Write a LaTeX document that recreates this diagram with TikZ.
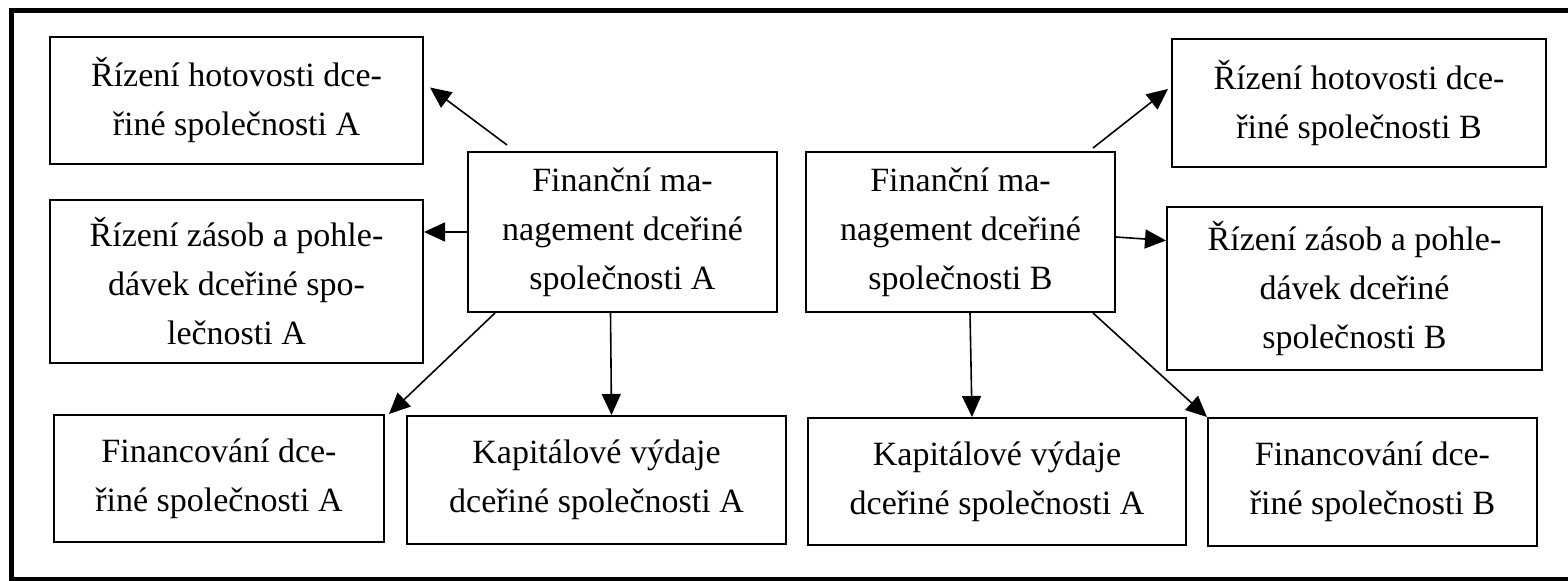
\documentclass[tikz,border=0pt]{standalone}
\usepackage{fontspec}
\setmainfont{Liberation Serif}
\usetikzlibrary{arrows.meta,calc}

\begin{document}
\begin{tikzpicture}[x=0.5pt, y=-0.5pt,
                    box/.style={draw, line width=1pt, align=center, inner sep=0pt,
                                font=\fontsize{17}{24.5}\selectfont},
                    arrow/.style={-{Triangle[length=10.5pt,width=9.5pt]}, line width=0.8pt},
                    frame/.style={line width=2.5pt}
                    ]
        \useasboundingbox (0,0) rectangle (1568,581);
        \draw[frame] (1590,11) -- (11,11) -- (11,579.5) -- (1590,579.5);

        \node[box, minimum width=154.5pt, minimum height=80pt] (Acenter) at (622.5,232)
            {Finanční ma-\\nagement dceřiné\\společnosti A};
        \node[box, minimum width=186.5pt, minimum height=63.5pt] (Acash) at (236.5,100.5)
            {Řízení hotovosti dce-\\řiné společnosti A};
        \node[box, minimum width=186.5pt, minimum height=81.5pt] (Ainv) at (236.5,281.5)
            {Řízení zásob a pohle-\\dávek dceřiné spo-\\lečnosti A};
        \node[box, minimum width=165pt, minimum height=63.5pt] (Afin) at (219,478.5)
            {Financování dce-\\řiné společnosti A};
        \node[box, minimum width=189.5pt, minimum height=64pt] (Acap) at (596.5,480)
            {Kapitálové výdaje\\dceřiné společnosti A};

        \node[box, minimum width=154.5pt, minimum height=80pt] (Bcenter) at (960.5,232)
            {Finanční ma-\\nagement dceřiné\\společnosti B};
        \node[box, minimum width=187pt, minimum height=64pt] (Bcash) at (1359,103)
            {Řízení hotovosti dce-\\řiné společnosti B};
        \node[box, minimum width=187.5pt, minimum height=81.5pt] (Binv) at (1354.5,288.5)
            {Řízení zásob a pohle-\\dávek dceřiné\\společnosti B};
        \node[box, minimum width=189pt, minimum height=63.5pt] (Bcap) at (997,481.5)
            {Kapitálové výdaje\\dceřiné společnosti A};
        \node[box, minimum width=164.5pt, minimum height=64pt] (Bfin) at (1372.5,482)
            {Financování dce-\\řiné společnosti B};

        \draw[arrow] ($(Acenter.north west)+(40,-6)$) -- ($(Acash.east)+(6,-13)$);
        \draw[arrow] (Acenter.west) -- (Acenter.west -| Ainv.east);
        \draw[arrow] ($(Acenter.south west)+(28,0)$) -- ($(Afin.north east)+(4,0)$);
        \draw[arrow] ($(Acenter.south)+(-12,0)$) -- ($(Acap.north)+(15,0)$);

        \draw[arrow] ($(Bcenter.north east)+(-23,-3)$) -- ($(Bcash.west)+(-3,-14)$);
        \draw[arrow] ($(Bcenter.east)+(0,5)$) -- ($(Binv.west)+(0,-48)$);
        \draw[arrow] ($(Bcenter.south)+(9.5,0)$) -- ($(Bcap.north)+(-25,0)$);
        \draw[arrow] ($(Bcenter.south east)+(-23,0)$) -- (Bfin.north west);
    \end{tikzpicture}
\end{document}
